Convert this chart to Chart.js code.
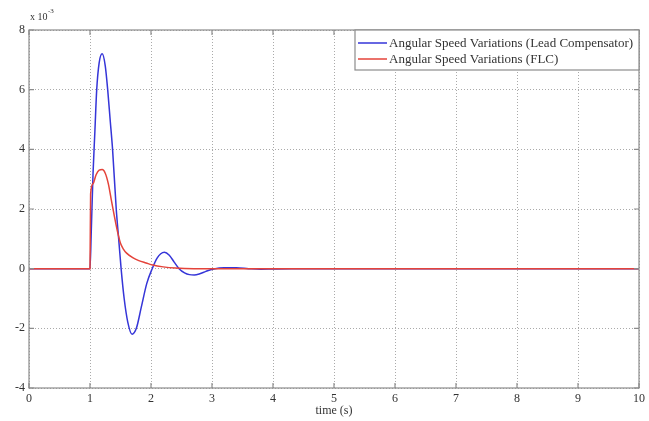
<!DOCTYPE html>
<html>
<head>
<meta charset="utf-8">
<script src="https://cdn.jsdelivr.net/npm/chart.js@4/dist/chart.umd.min.js"></script>
<style>
  html, body { margin: 0; padding: 0; background: #fff; }
  #wrap { width: 649px; height: 421px; }
</style>
</head>
<body>
<div id="wrap"><canvas id="chart" width="649" height="421"></canvas></div>
<script>
// values in units of 1e-3
const leadTime  = [0, 1.0, 1.02, 1.05, 1.08, 1.11, 1.15, 1.2, 1.25, 1.29, 1.33, 1.37, 1.43, 1.47, 1.51, 1.56, 1.62, 1.69, 1.76, 1.84, 1.93, 2.02, 2.1, 2.16, 2.22, 2.3, 2.38, 2.46, 2.55, 2.63, 2.71, 2.8, 2.9, 3.03, 3.2, 3.4, 3.6, 3.8, 4.0, 4.3, 10];
const leadSpeed = [0, 0, 1.2, 3.2, 4.6, 6.0, 6.9, 7.2, 6.8, 6.0, 5.0, 4.0, 2.0, 1.0, 0.0, -1.0, -1.8, -2.2, -2.0, -1.3, -0.5, 0.0, 0.35, 0.5, 0.55, 0.45, 0.22, 0.0, -0.14, -0.2, -0.21, -0.17, -0.09, -0.01, 0.03, 0.03, 0.0, -0.02, -0.01, 0, 0];

const flcTime  = [0, 1.0, 1.01, 1.05, 1.1, 1.15, 1.2, 1.25, 1.3, 1.35, 1.4, 1.45, 1.5, 1.55, 1.6, 1.7, 1.8, 1.92, 2.03, 2.2, 2.4, 2.7, 10];
const flcSpeed = [0, 0, 2.5, 2.85, 3.15, 3.3, 3.32, 3.2, 2.85, 2.3, 1.75, 1.25, 0.85, 0.65, 0.52, 0.37, 0.27, 0.19, 0.12, 0.06, 0.02, 0, 0];

const xTicks = [0, 1, 2, 3, 4, 5, 6, 7, 8, 9, 10];
const yTicks = [-4, -2, 0, 2, 4, 6, 8];

const labels = ["Angular Speed Variations (Lead Compensator)", "Angular Speed Variations (FLC)"];
const colors = ["#3535d8", "#e4433a"];

const SERIF = "'Liberation Serif', 'DejaVu Serif', serif";
const AXIS = "#8c8c8c";

function pairs(xs, ys) {
  return xs.map((x, i) => ({ x: x, y: ys[i] }));
}

const matlabBox = {
  id: "matlabBox",
  afterDraw(chart) {
    const { ctx, chartArea: a, scales } = chart;
    ctx.save();

    // axes box + inward ticks
    ctx.strokeStyle = AXIS;
    ctx.lineWidth = 1.2;
    ctx.strokeRect(a.left, a.top, a.right - a.left, a.bottom - a.top);
    ctx.beginPath();
    xTicks.forEach(v => {
      const px = scales.x.getPixelForValue(v);
      ctx.moveTo(px, a.bottom); ctx.lineTo(px, a.bottom - 5);
      ctx.moveTo(px, a.top); ctx.lineTo(px, a.top + 5);
    });
    yTicks.forEach(v => {
      const py = scales.y.getPixelForValue(v);
      ctx.moveTo(a.left, py); ctx.lineTo(a.left + 5, py);
      ctx.moveTo(a.right, py); ctx.lineTo(a.right - 5, py);
    });
    ctx.stroke();

    // exponent label
    ctx.fillStyle = "#333";
    ctx.textBaseline = "alphabetic";
    ctx.textAlign = "left";
    ctx.font = "10px " + SERIF;
    ctx.fillText("x 10", 30, 20);
    ctx.font = "7px " + SERIF;
    ctx.fillText("-3", 48, 13);

    // x axis title
    ctx.font = "12px " + SERIF;
    ctx.textAlign = "center";
    ctx.fillText("time (s)", (a.left + a.right) / 2, 414);

    // legend
    const lx = 355, ly = a.top, lw = a.right - lx, lh = 40;
    ctx.fillStyle = "#fff";
    ctx.fillRect(lx, ly, lw, lh);
    ctx.strokeStyle = AXIS;
    ctx.lineWidth = 1.2;
    ctx.strokeRect(lx, ly, lw, lh);
    ctx.font = "13px " + SERIF;
    ctx.textAlign = "left";
    ctx.textBaseline = "middle";
    labels.forEach((lab, i) => {
      const y = ly + 13 + i * 16;
      ctx.strokeStyle = colors[i];
      ctx.lineWidth = 1.5;
      ctx.beginPath();
      ctx.moveTo(lx + 3, y); ctx.lineTo(lx + 32, y);
      ctx.stroke();
      ctx.fillStyle = "#333";
      ctx.fillText(lab, lx + 34, y + 1);
    });

    ctx.restore();
  }
};

new Chart(document.getElementById("chart"), {
  type: "line",
  data: {
    datasets: [
      { label: labels[0], data: pairs(leadTime, leadSpeed), borderColor: colors[0], borderWidth: 1.5, pointRadius: 0, cubicInterpolationMode: "monotone", order: 1 },
      { label: labels[1], data: pairs(flcTime, flcSpeed), borderColor: colors[1], borderWidth: 1.5, pointRadius: 0, cubicInterpolationMode: "monotone", order: 0 }
    ]
  },
  options: {
    responsive: false,
    animation: false,
    layout: { padding: { left: 0, right: 7, top: 30, bottom: 0 } },
    plugins: { legend: { display: false }, tooltip: { enabled: false } },
    scales: {
      x: {
        type: "linear", min: 0, max: 10,
        afterBuildTicks: s => { s.ticks = xTicks.map(v => ({ value: v })); },
        afterFit: s => { s.height = 33; },
        grid: { color: "#aaaaaa", lineWidth: 1, drawTicks: false },
        border: { display: false, dash: [1, 2] },
        ticks: { color: "#333", padding: 4, maxRotation: 0, font: { family: SERIF, size: 12 } }
      },
      y: {
        type: "linear", min: -4, max: 8,
        afterBuildTicks: s => { s.ticks = yTicks.map(v => ({ value: v })); },
        afterFit: s => { s.width = 29; },
        grid: { color: "#aaaaaa", lineWidth: 1, drawTicks: false },
        border: { display: false, dash: [1, 2] },
        ticks: { color: "#333", padding: 4, font: { family: SERIF, size: 12 } }
      }
    }
  },
  plugins: [matlabBox]
});
</script>
</body>
</html>
